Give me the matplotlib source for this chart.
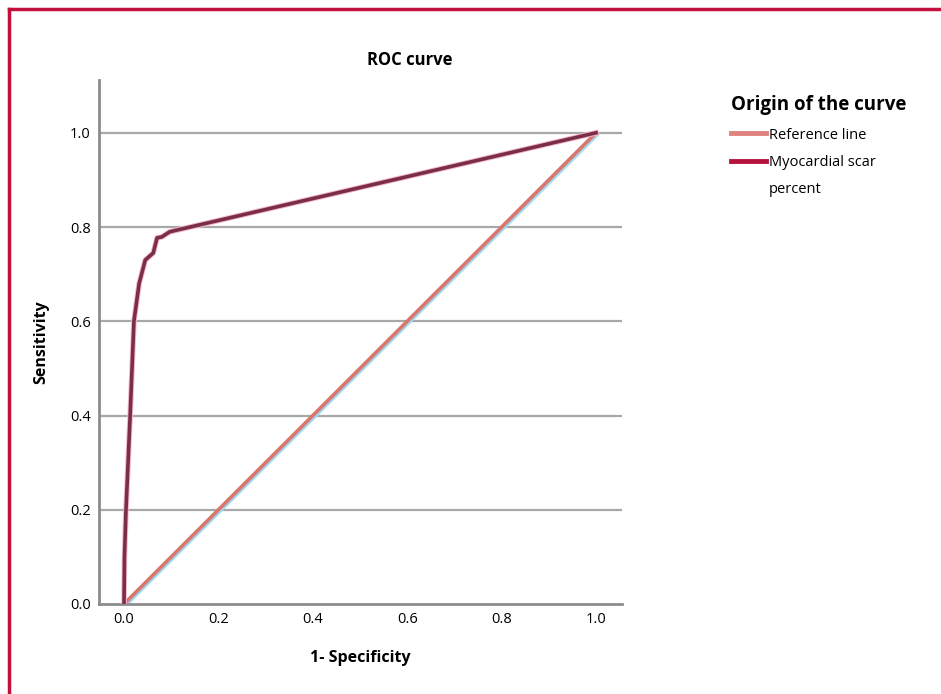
import matplotlib
matplotlib.use("Agg")
import matplotlib.pyplot as plt
import matplotlib.transforms as mtransforms
from matplotlib.lines import Line2D

plt.rcParams['font.family'] = ['Open Sans', 'DejaVu Sans']

# ROC curve points
fpr = [0.0, 0.001, 0.004, 0.013, 0.021, 0.032, 0.045, 0.062, 0.070, 0.080, 0.097, 1.0]
tpr = [0.0, 0.10, 0.195, 0.40, 0.60, 0.68, 0.73, 0.745, 0.777, 0.779, 0.79, 1.0]
ref_x = [0.0, 1.0]
ref_y = [0.0, 1.0]

ticks = [0.0, 0.2, 0.4, 0.6, 0.8, 1.0]
tick_labels = ["0.0", "0.2", "0.4", "0.6", "0.8", "1.0"]
legend_labels = ["Reference line", "Myocardial scar", "percent"]

fig = plt.figure(figsize=(9.41, 6.94), dpi=100)
ax = fig.add_axes([0.1052, 0.1297, 0.661 - 0.1052, 0.8847 - 0.1297])

ax.set_xlim(-0.053, 1.055)
ax.set_ylim(0, 1.112)

for t in ticks[1:]:
    ax.axhline(t, color="#a8a8a8", linewidth=1.6, zorder=1)

# light blue shadow under the reference line
shadow = mtransforms.offset_copy(ax.transData, fig=fig, x=1.2, y=-0.9, units="points")
ax.plot(ref_x, ref_y, color="#9fd8f0", linewidth=2.6, transform=shadow, zorder=2)
ax.plot(ref_x, ref_y, color="#d9776f", linewidth=2.6, zorder=3)

ax.plot(fpr, tpr, color="#f4b8c8", linewidth=4.0, zorder=4, solid_joinstyle="round")
ax.plot(fpr, tpr, color="#7b2d4c", linewidth=2.6, zorder=5, solid_joinstyle="round")

ax.set_xticks(ticks)
ax.set_xticklabels(tick_labels)
ax.set_yticks(ticks)
ax.set_yticklabels(tick_labels)
ax.tick_params(length=0, labelsize=10.5, pad=6)

for side in ["top", "right"]:
    ax.spines[side].set_visible(False)
for side in ["left", "bottom"]:
    ax.spines[side].set_color("#8c8c8c")
    ax.spines[side].set_linewidth(2)

ax.set_xlabel("1- Specificity", fontsize=11.5, fontweight="bold", labelpad=16)
ax.set_ylabel("Sensitivity", fontsize=11.5, fontweight="bold", labelpad=15)

fig.text(410 / 941, 1 - 60 / 694, "ROC curve", fontsize=12, fontweight="bold",
         ha="center", va="center")

handles = [Line2D([], [], color="#e0827f", linewidth=3.5),
           Line2D([], [], color="#b5123e", linewidth=3.5),
           Line2D([], [], color="none")]
leg = fig.legend(handles, legend_labels,
                 loc="upper left", bbox_to_anchor=(718 / 941, 1 - 82 / 694),
                 frameon=False, fontsize=10.5, handlelength=2.4, handletextpad=0.2,
                 labelspacing=0.85, title="Origin of the curve",
                 title_fontproperties={"size": 13.5, "weight": "bold"},
                 alignment="left")

# crimson frame at top and left
fig.add_artist(Line2D([9 / 941, 1.0], [1 - 9 / 694, 1 - 9 / 694],
                      transform=fig.transFigure, color="#c2103c", linewidth=2.5))
fig.add_artist(Line2D([9 / 941, 9 / 941], [0.0, 1 - 9 / 694],
                      transform=fig.transFigure, color="#c2103c", linewidth=2.5))

fig.savefig("out.png", dpi=100)
